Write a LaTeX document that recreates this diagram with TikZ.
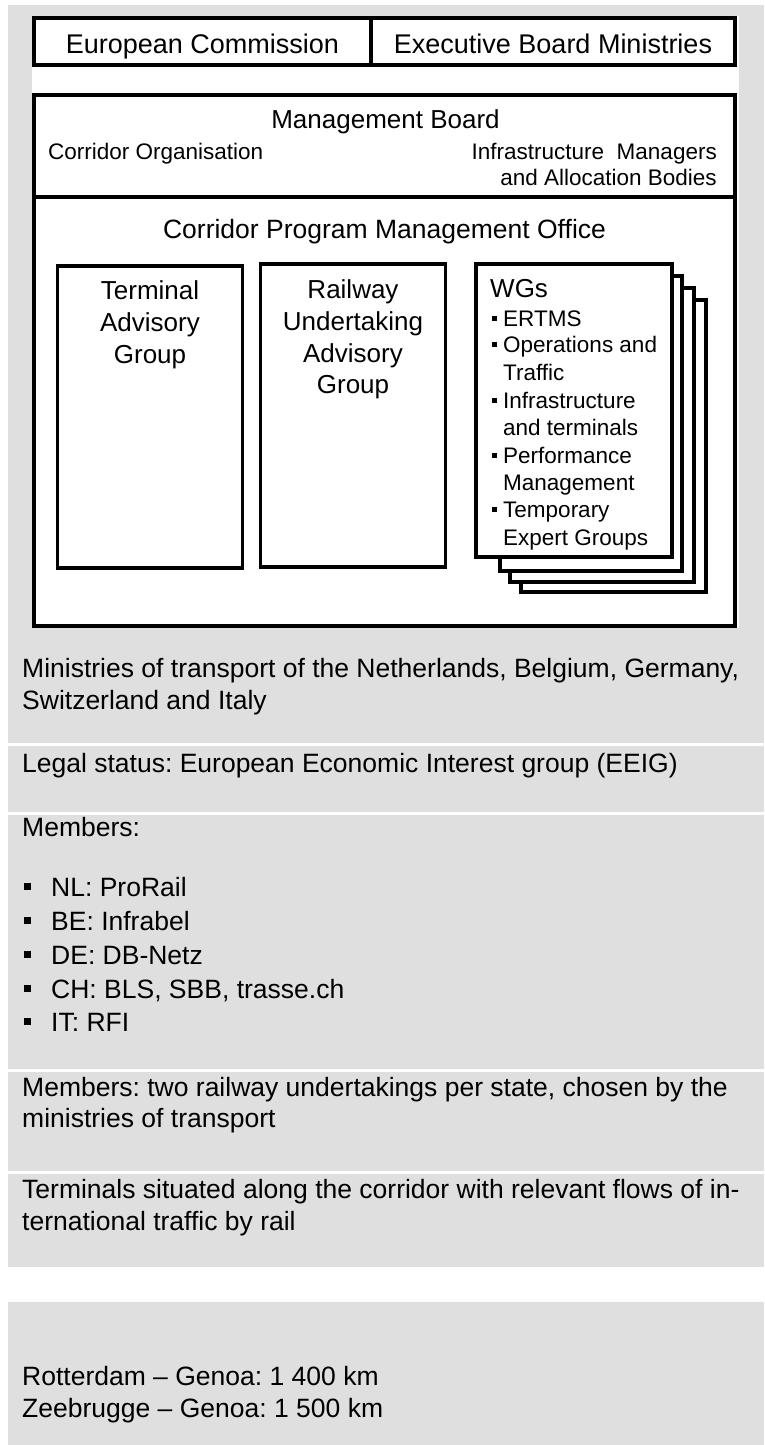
\documentclass[tikz,border=0pt]{standalone}
\usepackage{fontspec}
\setmainfont{Liberation Sans}
\frenchspacing
\definecolor{panel}{RGB}{223,223,223}

\begin{document}
\begin{tikzpicture}[x=1pt,y=-1pt,
    box/.style={draw,fill=white,line width=3.5pt,outer sep=0pt,inner sep=0pt,anchor=north west},
    head/.style={font=\fontsize{26}{32}\selectfont,inner sep=0pt,anchor=base},
    small/.style={font=\fontsize{22.5}{27}\selectfont,inner sep=0pt},
    body/.style={font=\fontsize{26.5}{32}\selectfont,inner sep=0pt,anchor=base west},
    sq/.style={fill=black,inner sep=0pt,minimum size=7pt},
    wsq/.style={fill=black,inner sep=0pt,minimum size=5pt}]
  \useasboundingbox (0,0) rectangle (764,1445);
  \fill[white] (0,0) rectangle (764,1445);
  \fill[panel] (8,5) rectangle (764,743);
  \fill[panel] (8,746) rectangle (764,812);
  \fill[panel] (8,815) rectangle (764,1069);
  \fill[panel] (8,1072) rectangle (764,1171);
  \fill[panel] (8,1174) rectangle (764,1267);
  \fill[panel] (8,1302) rectangle (764,1445);
  \fill[white] (32,16) rectangle (739,628);

  \node[box, minimum width=337, minimum height=47] (EC) at (34,18) {};
  \node[box, minimum width=364, minimum height=47] (EBM) at (371,18) {};
  \path (EC.south) node[head, font=\fontsize{27}{32}\selectfont, yshift=12pt] (ECt) {European Commission};
  \path (EBM.south) node[head, font=\fontsize{27}{32}\selectfont, yshift=12pt] (EBMt) {Executive Board Ministries};

  \node[box, minimum width=701, minimum height=102] (MB) at (34,95) {};
  \node[box, minimum width=701, minimum height=429] (CPMO) at (34,197) {};
  \path (MB.north) node[head, xshift=1pt, yshift=-33pt] (MBt) {Management Board};
  \node[small, anchor=base west] (CO) at (48,159) {Corridor Organisation};
  \node[small, anchor=base east] (IM) at (717,159) {Infrastructure\ \ Managers};
  \node[small, anchor=base east] (AB) at (717,185) {and Allocation Bodies};
  \path (CPMO.north) node[head, font=\fontsize{26.5}{32}\selectfont, yshift=-41pt] (CPMOt)
    {Corridor Program Management Office};

  \node[box, minimum width=185, minimum height=302] (TAG) at (57.5,266) {};
  \node[box, minimum width=185, minimum height=303] (RUAG) at (260.5,264) {};
  \path (TAG.north) node[head, yshift=-33pt] (TAG1) {Terminal};
  \path (TAG.north) node[head, yshift=-65pt] (TAG2) {Advisory};
  \path (TAG.north) node[head, yshift=-97pt] (TAG3) {Group};
  \path (RUAG.north) node[head, yshift=-34pt] (RUAG1) {Railway};
  \path (RUAG.north) node[head, yshift=-66pt] (RUAG2) {Undertaking};
  \path (RUAG.north) node[head, yshift=-98pt] (RUAG3) {Advisory};
  \path (RUAG.north) node[head, yshift=-129pt] (RUAG4) {Group};

  \node[box, minimum width=185, minimum height=292] (WG4) at (521,300) {};
  \node[box, minimum width=184, minimum height=294] (WG3) at (510,288) {};
  \node[box, minimum width=182, minimum height=295] (WG2) at (500,276) {};
  \node[box, minimum width=196, minimum height=293] (WG1) at (476,264) {};
  \node[head, anchor=base west] (WGt) at (490,297) {WGs};
  \node[wsq] (wb1) at (494.5,318) {};
  \node[small, anchor=base west] (wg1) at (503,326) {ERTMS};
  \node[wsq] (wb2) at (494.5,344) {};
  \node[small, anchor=base west] (wg2) at (503,352) {Operations and};
  \node[small, anchor=base west] (wg2b) at (503,380) {Traffic};
  \node[wsq] (wb3) at (494.5,400) {};
  \node[small, anchor=base west] (wg3) at (503,408) {Infrastructure};
  \node[small, anchor=base west] (wg3b) at (503,435) {and terminals};
  \node[wsq] (wb4) at (494.5,455) {};
  \node[small, anchor=base west] (wg4) at (503,463) {Performance};
  \node[small, anchor=base west] (wg4b) at (503,490) {Management};
  \node[wsq] (wb5) at (494.5,509) {};
  \node[small, anchor=base west] (wg5) at (503,517) {Temporary};
  \node[small, anchor=base west] (wg5b) at (503,545) {Expert Groups};

  \node[body] (min1) at (22,677) {Ministries of transport of the Netherlands, Belgium, Germany,};
  \node[body] (min2) at (22,709) {Switzerland and Italy};
  \node[body] (legal) at (22,772) {Legal status: European Economic Interest group (EEIG)};
  \node[body] (mem) at (22,836) {Members:};
  \node[sq] (b1) at (27.5,886.5) {};
  \node[body] (nl) at (51,896) {NL: ProRail};
  \node[sq] (b2) at (27.5,920.5) {};
  \node[body] (be) at (51,930) {BE: Infrabel};
  \node[sq] (b3) at (27.5,954.5) {};
  \node[body] (de) at (51,964) {DE: DB-Netz};
  \node[sq] (b4) at (27.5,988.5) {};
  \node[body] (ch) at (51,998) {CH: BLS, SBB, trasse.ch};
  \node[sq] (b5) at (27.5,1021.5) {};
  \node[body] (it) at (51,1031) {IT: RFI};
  \node[body] (ru1) at (22,1096) {Members: two railway undertakings per state, chosen by the};
  \node[body] (ru2) at (22,1127) {ministries of transport};
  \node[body] (ter1) at (22,1198) {Terminals situated along the corridor with relevant flows of in-};
  \node[body] (ter2) at (22,1230) {ternational traffic by rail};
  \node[body] (len1) at (22,1385) {Rotterdam – Genoa: 1 400 km};
  \node[body] (len2) at (22,1417) {Zeebrugge – Genoa: 1 500 km};
\end{tikzpicture}
\end{document}
